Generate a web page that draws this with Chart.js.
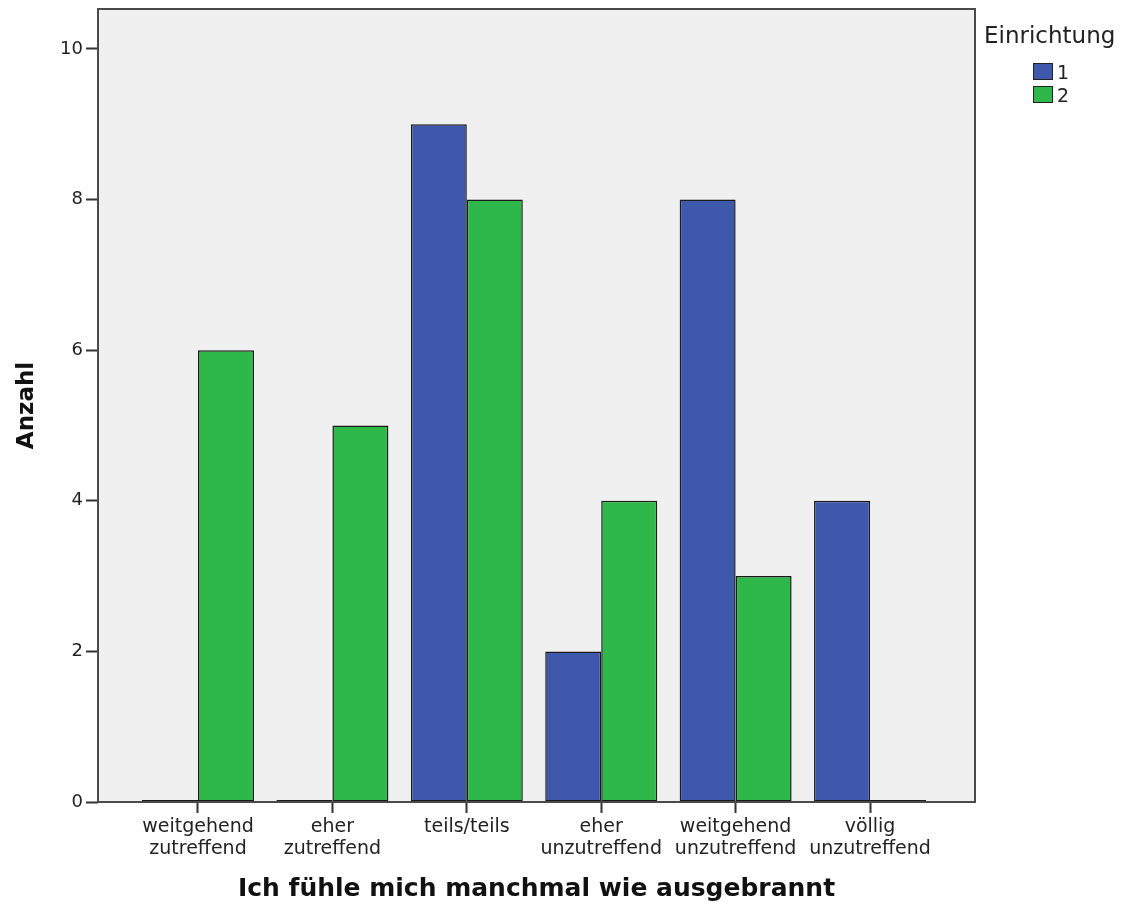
<!DOCTYPE html>
<html>
<head>
<meta charset="utf-8">
<script src="https://cdn.jsdelivr.net/npm/chart.js@4.4.1/dist/chart.umd.min.js"></script>
<style>
  body { margin: 0; background: #fff; }
  #wrap { width: 1130px; height: 908px; position: relative; }
</style>
</head>
<body>
<div id="wrap"><canvas id="barChart"></canvas></div>
<script>
// categories (x axis)
const categories = [
    ['weitgehend', 'zutreffend'],
    ['eher', 'zutreffend'],
    ['teils/teils'],
    ['eher', 'unzutreffend'],
    ['weitgehend', 'unzutreffend'],
    ['völlig', 'unzutreffend']
];
// counts per Einrichtung
const einrichtung1 = [0, 0, 9, 2, 8, 4];
const einrichtung2 = [6, 5, 8, 4, 3, 0];
const seriesNames = ['1', '2'];
const seriesColors = ['#3e58ac', '#2fb84a'];
const yTicks = [0, 2, 4, 6, 8, 10];

// frame, background and legend
const spssLook = {
    id: 'spssLook',
    beforeDraw(chart) {
        const { ctx, chartArea: a } = chart;
        ctx.save();
        ctx.fillStyle = '#f0f0f0';
        ctx.fillRect(a.left, a.top, a.right - a.left, a.bottom - a.top);
        ctx.restore();
    },
    afterDatasetsDraw(chart) {
        const { ctx, chartArea: a } = chart;
        ctx.save();
        ctx.strokeStyle = '#4a4a4a';
        ctx.lineWidth = 2;
        ctx.strokeRect(a.left, a.top, a.right - a.left, a.bottom - a.top);
        ctx.restore();
    },
    afterDraw(chart) {
        const ctx = chart.ctx;
        ctx.save();
        ctx.fillStyle = '#222';
        ctx.textBaseline = 'alphabetic';
        ctx.font = '23px "DejaVu Sans"';
        ctx.fillText('Einrichtung', 984, 43);
        ctx.font = '19px "DejaVu Sans"';
        seriesNames.forEach((name, i) => {
            const y = 63 + i * 23;
            ctx.fillStyle = seriesColors[i];
            ctx.fillRect(1033, y, 20, 17);
            ctx.strokeStyle = '#222';
            ctx.lineWidth = 1;
            ctx.strokeRect(1033.5, y + 0.5, 19, 16);
            ctx.fillStyle = '#222';
            ctx.fillText(name, 1057, y + 16);
        });
        ctx.restore();
    }
};

const ctx = document.getElementById('barChart').getContext('2d');
new Chart(ctx, {
    type: 'bar',
    data: {
        datasets: [
            {
                label: seriesNames[0],
                data: einrichtung1.map((v, i) => ({ x: i, y: v })),
                backgroundColor: seriesColors[0]
            },
            {
                label: seriesNames[1],
                data: einrichtung2.map((v, i) => ({ x: i, y: v })),
                backgroundColor: seriesColors[1]
            }
        ]
    },
    options: {
        responsive: true,
        maintainAspectRatio: false,
        animation: false,
        layout: { padding: { top: 9, right: 155, left: 0, bottom: 0 } },
        datasets: {
            bar: {
                borderColor: '#1a1a1a',
                borderWidth: 1.5,
                borderSkipped: false,
                minBarLength: 2,
                categoryPercentage: 0.833,
                barPercentage: 1
            }
        },
        plugins: {
            legend: { display: false },
            tooltip: { enabled: false }
        },
        scales: {
            x: {
                type: 'linear',
                min: -0.744,
                max: 5.781,
                offset: false,
                afterFit(scale) {
                    scale.height = 106;
                    scale.paddingLeft = 0;
                    scale.paddingRight = 0;
                },
                afterBuildTicks(scale) {
                    scale.ticks = categories.map((c, i) => ({ value: i }));
                },
                border: { display: false },
                grid: {
                    offset: false,
                    drawOnChartArea: false,
                    drawTicks: true,
                    tickLength: 11,
                    tickColor: '#333',
                    tickWidth: 2
                },
                ticks: {
                    autoSkip: false,
                    maxRotation: 0,
                    padding: 3,
                    color: '#222',
                    font: { family: 'DejaVu Sans', size: 19, lineHeight: 1.15 },
                    callback: (value) => categories[value]
                },
                title: {
                    display: true,
                    text: 'Ich fühle mich manchmal wie ausgebrannt',
                    color: '#111',
                    font: { family: 'DejaVu Sans', size: 25, weight: 'bold' },
                    padding: { top: 0, bottom: 4 }
                }
            },
            y: {
                min: 0,
                max: 10.53,
                afterFit(scale) {
                    scale.width = 98;
                    scale.paddingTop = 0;
                    scale.paddingBottom = 0;
                },
                afterBuildTicks(scale) {
                    scale.ticks = yTicks.map(v => ({ value: v }));
                },
                border: { display: false },
                grid: {
                    drawOnChartArea: false,
                    drawTicks: true,
                    tickLength: 12,
                    tickColor: '#333',
                    tickWidth: 2
                },
                ticks: {
                    padding: 3,
                    color: '#222',
                    font: { family: 'DejaVu Sans', size: 18 }
                },
                title: {
                    display: true,
                    text: 'Anzahl',
                    color: '#111',
                    font: { family: 'DejaVu Sans', size: 23, weight: 'bold' },
                    padding: { top: 13, bottom: 0 }
                }
            }
        }
    },
    plugins: [spssLook]
});
</script>
</body>
</html>
